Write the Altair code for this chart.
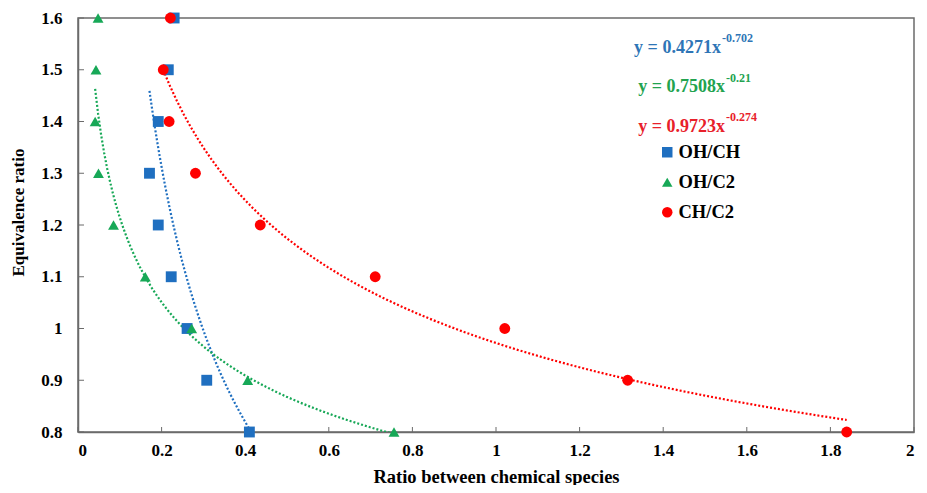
import altair as alt
import pandas as pd

# ---- data ----
series_names = ["OH/CH", "OH/C2", "CH/C2"]
equiv_ratio = [1.6, 1.5, 1.4, 1.3, 1.2, 1.1, 1.0, 0.9, 0.8]
oh_ch = [0.230, 0.216, 0.192, 0.171, 0.192, 0.223, 0.261, 0.308, 0.410]
oh_c2 = [0.048, 0.043, 0.041, 0.049, 0.085, 0.161, 0.272, 0.406, 0.756]
ch_c2 = [0.221, 0.204, 0.218, 0.281, 0.436, 0.711, 1.021, 1.315, 1.839]

colors = ["#1F6FC0", "#17A857", "#FF0000"]
eq_colors = ["#2E75B6", "#22A34F", "#E8202A"]
shapes = ["square", "triangle-up", "circle"]

eq_main = ["y = 0.4271x", "y = 0.7508x", "y = 0.9723x"]
eq_sup = ["-0.702", "-0.21", "-0.274"]
eq_x = [1.538, 1.548, 1.548]
eq_y = [1.532, 1.457, 1.380]
eq_sup_y = [1.553, 1.477, 1.401]

x_ticks = [0, 0.2, 0.4, 0.6, 0.8, 1.0, 1.2, 1.4, 1.6, 1.8, 2.0]
y_ticks = [0.8, 0.9, 1.0, 1.1, 1.2, 1.3, 1.4, 1.5, 1.6]

rows = []
for name, xs in zip(series_names, [oh_ch, oh_c2, ch_c2]):
    for xv, yv in zip(xs, equiv_ratio):
        rows.append({"series": name, "x": xv, "y": yv})
df = pd.DataFrame(rows)

eq_df = pd.DataFrame({"main": eq_main, "sup": eq_sup, "x": eq_x, "y": eq_y,
                      "sy": eq_sup_y, "color": eq_colors})

FONT = "Liberation Serif"
W, H = 836, 414

xs = alt.Scale(domain=[0, 2], nice=False)
ys = alt.Scale(domain=[0.8, 1.6], nice=False)

xaxis = alt.Axis(values=x_ticks, format="~g", title="Ratio between chemical species",
                 grid=False, ticks=False, labelPadding=10, titlePadding=9, titleFontSize=18.5)
yaxis = alt.Axis(values=y_ticks, format="~g", title="Equivalence ratio",
                 grid=False, ticks=False, labelPadding=16, titlePadding=13, titleY=194)

base = alt.Chart(df)

lines = base.transform_regression(
    "x", "y", method="pow", groupby=["series"]
).mark_line(strokeDash=[2, 2], strokeWidth=2.2, clip=True).encode(
    x=alt.X("x:Q", scale=xs, axis=xaxis),
    y=alt.Y("y:Q", scale=ys, axis=yaxis),
    stroke=alt.Stroke("series:N", scale=alt.Scale(domain=series_names, range=colors), legend=None),
    detail="series:N",
)

leg = alt.Legend(title=None, orient="none", legendX=580, legendY=125,
                 labelFont=FONT, labelFontSize=18.5, labelFontWeight="bold",
                 labelColor="black", symbolSize=110, rowPadding=11,
                 labelOffset=2, padding=0)

points = base.mark_point(filled=True, opacity=1, size=118).encode(
    x=alt.X("x:Q", scale=xs),
    y=alt.Y("y:Q", scale=ys),
    fill=alt.Fill("series:N", scale=alt.Scale(domain=series_names, range=colors), legend=leg),
    shape=alt.Shape("series:N", scale=alt.Scale(domain=series_names, range=shapes), legend=leg),
)

eq_main_txt = alt.Chart(eq_df).mark_text(
    align="right", baseline="alphabetic", font=FONT, fontSize=18, fontWeight="bold"
).encode(
    x=alt.X("x:Q", scale=xs), y=alt.Y("y:Q", scale=ys),
    text="main:N", color=alt.Color("color:N", scale=None),
)
eq_sup_txt = alt.Chart(eq_df).mark_text(
    align="left", baseline="alphabetic", font=FONT, fontSize=12, fontWeight="bold", dx=1
).encode(
    x=alt.X("x:Q", scale=xs), y=alt.Y("sy:Q", scale=ys),
    text="sup:N", color=alt.Color("color:N", scale=None),
)

xtick_df = pd.DataFrame({"v": x_ticks})
ytick_df = pd.DataFrame({"v": y_ticks})
xtick_rules = alt.Chart(xtick_df).mark_rule(color="#6b6b6b", strokeWidth=1).encode(
    x=alt.X("v:Q", scale=xs), y=alt.value(H - 5), y2=alt.value(H))
ytick_rules = alt.Chart(ytick_df).mark_rule(color="#6b6b6b", strokeWidth=1).encode(
    y=alt.Y("v:Q", scale=ys), x=alt.value(0), x2=alt.value(6))

chart = alt.layer(
    lines, xtick_rules, ytick_rules, points, eq_main_txt, eq_sup_txt
).resolve_scale(stroke="independent").properties(
    width=W, height=H,
    autosize=alt.AutoSizeParams(type="none"),
    padding={"left": 70, "top": 10, "right": 5, "bottom": 53},
    background="white",
).configure_view(
    stroke="#6b6b6b", strokeWidth=1.5
).configure_axis(
    domainColor="#6b6b6b", domainWidth=1.5,
    labelFont=FONT, labelFontSize=17, labelFontWeight="bold", labelColor="black",
    titleFont=FONT, titleFontSize=17, titleFontWeight="bold", titleColor="black",
)

chart.save("out.html", embed_options={"renderer": "svg", "actions": False})
